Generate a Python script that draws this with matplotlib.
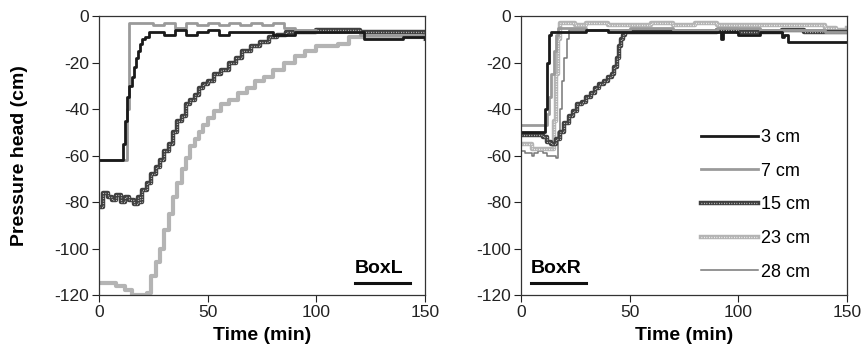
import matplotlib.pyplot as plt

# BoxL data (time in min, pressure head in cm)
tL_3 = [0, 10, 11, 12, 13, 14, 15, 16, 17, 18, 19, 20, 21, 23, 25, 30, 35, 40, 45, 50, 55, 60, 70, 80, 90, 100, 110, 120, 122, 130, 140, 150]
hL_3 = [-62, -62, -55, -45, -35, -30, -26, -22, -18, -15, -12, -10, -9, -7, -7, -8, -6, -8, -7, -6, -8, -7, -7, -8, -7, -7, -7, -7, -10, -10, -9, -10]
tL_7 = [0, 12, 13, 14, 20, 25, 30, 35, 40, 45, 50, 55, 60, 65, 70, 75, 80, 85, 90, 100, 110, 120, 130, 140, 150]
hL_7 = [-62, -62, -40, -3, -3, -4, -3, -5, -3, -4, -3, -4, -3, -4, -3, -4, -3, -5, -6, -7, -7, -8, -8, -8, -8]
tL_15 = [0, 2, 4, 6, 8, 10, 12, 14, 16, 18, 19, 20, 22, 24, 26, 28, 30, 32, 34, 36, 38, 40, 42, 44, 46, 48, 50, 53, 56, 60, 63, 66, 70, 74, 78, 82, 86, 90, 100, 110, 120, 130, 140, 150]
hL_15 = [-82, -76, -78, -79, -77, -80, -78, -79, -81, -78, -80, -75, -72, -68, -65, -62, -58, -55, -50, -45, -43, -38, -36, -34, -31, -29, -28, -25, -23, -20, -18, -15, -13, -11, -9, -8, -7, -7, -6, -6, -7, -7, -7, -8]
tL_23 = [0, 4, 8, 12, 15, 18, 22, 24, 26, 28, 30, 32, 34, 36, 38, 40, 42, 44, 46, 48, 50, 53, 56, 60, 64, 68, 72, 76, 80, 85, 90, 95, 100, 105, 110, 115, 120, 130, 140, 150]
hL_23 = [-115, -115, -116, -118, -120, -120, -119, -112, -106, -100, -92, -85, -78, -72, -66, -61, -56, -53, -50, -47, -44, -41, -38, -36, -33, -31, -28, -26, -23, -20, -17, -15, -13, -13, -12, -9, -9, -9, -9, -10]

# BoxR data
tR_3 = [0, 10, 11, 12, 13, 14, 20, 30, 40, 50, 60, 70, 80, 90, 92, 93, 95, 100, 110, 119, 120, 121, 123, 130, 140, 150]
hR_3 = [-50, -50, -40, -20, -8, -7, -7, -6, -7, -7, -7, -7, -7, -7, -10, -7, -7, -8, -7, -7, -9, -8, -11, -11, -11, -11]
tR_7 = [0, 11, 12, 13, 14, 15, 16, 17, 20, 30, 50, 70, 90, 110, 130, 140, 150]
hR_7 = [-47, -47, -42, -35, -25, -15, -8, -5, -5, -6, -5, -6, -5, -6, -6, -7, -7]
tR_15 = [0, 8, 10, 12, 14, 16, 18, 20, 22, 24, 26, 28, 30, 32, 34, 36, 38, 40, 42, 43, 44, 45, 46, 47, 48, 50, 60, 70, 80, 90, 100, 110, 120, 130, 140, 150]
hR_15 = [-51, -51, -52, -54, -55, -53, -50, -46, -43, -41, -38, -37, -35, -33, -31, -29, -28, -26, -25, -22, -18, -13, -10, -8, -7, -7, -7, -7, -7, -6, -7, -7, -6, -7, -7, -7]
tR_23 = [0, 5, 10, 14, 15, 16, 17, 18, 20, 25, 30, 40, 50, 60, 70, 80, 90, 100, 110, 120, 130, 140, 145, 150]
hR_23 = [-55, -57, -57, -57, -45, -25, -10, -3, -3, -4, -3, -4, -4, -3, -4, -3, -4, -4, -4, -4, -4, -5, -6, -5]
tR_28 = [0, 2, 4, 5, 6, 8, 10, 12, 14, 16, 17, 18, 19, 20, 21, 22, 30, 50, 70, 90, 110, 130, 150]
hR_28 = [-58, -59, -59, -60, -59, -58, -59, -60, -60, -61, -50, -40, -28, -18, -10, -6, -6, -6, -6, -6, -6, -6, -7]

labels = ['3 cm', '7 cm', '15 cm', '23 cm', '28 cm']

plt.rcParams['font.family'] = ['Liberation Sans', 'DejaVu Sans']
plt.rcParams['axes.unicode_minus'] = False

fig = plt.figure(figsize=(8.64, 3.58), dpi=100)
axL = fig.add_axes([0.1146, 0.176, 0.3773, 0.779])
axR = fig.add_axes([0.603, 0.176, 0.3773, 0.779])

dots = (0, (0.6, 1.4))


def draw(ax, t, h, kind):
    # returns handle(s) for the legend
    if kind == '3':
        return ax.plot(t, h, color='#1a1a1a', lw=2, drawstyle='steps-post')[0]
    if kind == '7':
        return ax.plot(t, h, color='#9a9a9a', lw=2, drawstyle='steps-post')[0]
    if kind == '15':
        a = ax.plot(t, h, color='#404040', lw=3.2, drawstyle='steps-post')[0]
        b = ax.plot(t, h, color='#d8d8d8', lw=0.9, ls=dots, drawstyle='steps-post')[0]
        return (a, b)
    if kind == '23':
        a = ax.plot(t, h, color='#b4b4b4', lw=3.2, drawstyle='steps-post')[0]
        b = ax.plot(t, h, color='white', lw=0.9, ls=dots, drawstyle='steps-post')[0]
        return (a, b)
    return ax.plot(t, h, color='#777777', lw=1.1, drawstyle='steps-post')[0]


# left panel: 23 cm drawn as a solid light grey band
axL.plot(tL_23, hL_23, color='#b4b4b4', lw=3, drawstyle='steps-post')
draw(axL, tL_15, hL_15, '15')
draw(axL, tL_7, hL_7, '7')
draw(axL, tL_3, hL_3, '3')

hands = []
hands.append(draw(axR, tR_28, hR_28, '28'))
hands.append(draw(axR, tR_23, hR_23, '23'))
hands.append(draw(axR, tR_15, hR_15, '15'))
hands.append(draw(axR, tR_7, hR_7, '7'))
hands.append(draw(axR, tR_3, hR_3, '3'))
hands = hands[::-1]

for ax in (axL, axR):
    ax.set_xlim(0, 150)
    ax.set_ylim(-120, 0)
    ax.set_xticks([0, 50, 100, 150])
    ax.set_yticks(range(-120, 1, 20))
    ax.tick_params(direction='out', length=5, width=0.8, labelsize=12.5, colors='#222222', pad=2)
    for s in ax.spines.values():
        s.set_color('#333333')
        s.set_linewidth(0.9)
    ax.set_xlabel('Time (min)', fontsize=14, fontweight='bold', labelpad=5)

axL.set_ylabel('Pressure head (cm)', fontsize=14, fontweight='bold')
axL.yaxis.set_label_coords(-0.218, 0.5)

axL.text(0.785, 0.063, 'BoxL', transform=axL.transAxes, fontsize=14, fontweight='bold', ha='left', va='bottom')
axL.plot([0.785, 0.955], [0.043, 0.043], transform=axL.transAxes, color='#111111', lw=2.2)
axR.text(0.03, 0.063, 'BoxR', transform=axR.transAxes, fontsize=14, fontweight='bold', ha='left', va='bottom')
axR.plot([0.03, 0.2], [0.043, 0.043], transform=axR.transAxes, color='#111111', lw=2.2)

axR.legend(hands, labels, loc='upper left', bbox_to_anchor=(0.551, 0.595), frameon=False,
           fontsize=13, handlelength=3.2, handletextpad=0.15, labelspacing=0.92,
           borderaxespad=0, borderpad=0)

fig.savefig('out.png', dpi=100)
